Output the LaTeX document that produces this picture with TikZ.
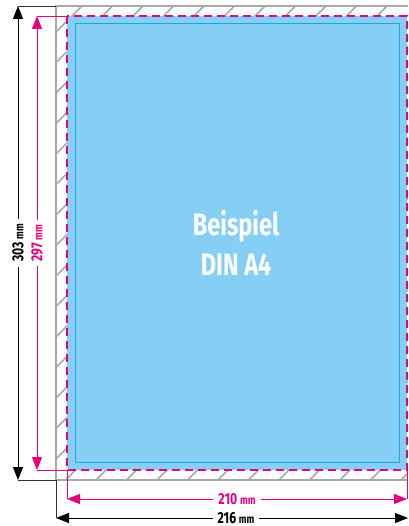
\documentclass[tikz,border=0pt]{standalone}
\usepackage{fontspec}
\newfontfamily\condfont[FakeStretch=0.76]{Fira Sans}
\usetikzlibrary{arrows.meta}
\definecolor{pinkc}{HTML}{E6007E}
\definecolor{bluefill}{HTML}{86CFF4}
\definecolor{bluestroke}{HTML}{22A5DE}
\definecolor{framegray}{HTML}{A8A8A8}
\tikzset{
  hatch/.style={framegray, line width=1.6pt},
  framebox/.style={framegray, line width=2.2pt},
  trimbox/.style={pinkc, line width=2.6pt, dash pattern=on 8pt off 5pt},
  innerbox/.style={bluestroke, line width=1pt},
  extblack/.style={black!80, line width=0.9pt},
  extpink/.style={pinkc, line width=0.9pt},
  dimblack/.style={black, line width=1pt, {Triangle[length=13pt,width=10pt]}-{Triangle[length=13pt,width=10pt]}},
  dimpink/.style={pinkc, line width=1pt, {Triangle[length=13pt,width=10pt]}-{Triangle[length=13pt,width=10pt]}},
  dimlabel/.style={fill=white, inner xsep=5pt, inner ysep=1pt, font=\condfont\bfseries\fontsize{16}{16}\selectfont},
}
\newcommand{\mmunit}{{\fontsize{12}{12}\selectfont mm}}
\begin{document}
\begin{tikzpicture}[x=1pt,y=-1pt]
\useasboundingbox (0,0) rectangle (408,526);
% hatching between frame and trim
\begin{scope}
  \clip (56,6) rectangle (408,480);
  \foreach \k in {-1,...,27}{
    \pgfmathsetmacro{\c}{88+30.5*\k}
    \draw[hatch] ({\c-480},480) -- ({\c-6},6);
  }
\end{scope}
% blue page
\fill[bluefill] (67,16) rectangle (407,470);
\draw[innerbox] (75,24) rectangle (399,462);
% frame
\draw[framebox] (408,6) -- (56,6) -- (56,480) -- (408,480);
% trim line
\draw[trimbox] (67,16) rectangle (407,470);
% main label
\node[white, align=center, font=\condfont\bfseries\fontsize{31}{40}\selectfont] (title) at (236,243) {Beispiel\\DIN A4};
% coordinates
\coordinate (outTL) at (56,6);
\coordinate (outBL) at (56,480);
\coordinate (outB) at (56,518);
\coordinate (outR) at (408,518);
\coordinate (v303t) at (18,6);
\coordinate (v303b) at (18,480);
\coordinate (trTL) at (67,16);
\coordinate (trBL) at (67,470);
\coordinate (trBR) at (407,470);
\coordinate (v297t) at (37,16);
\coordinate (v297b) at (37,470);
\coordinate (h210l) at (67,499);
\coordinate (h210r) at (407,499);
% extension lines
\draw[extblack] (outTL) -- (v303t);
\draw[extblack] (outBL) -- (v303b);
\draw[extblack] (outBL) -- (outB);
\draw[extpink] (trTL) -- (v297t);
\draw[extpink] (trBL) -- (v297b);
\draw[extpink] (trBL) -- (h210l);
\draw[extpink] (trBR) -- (h210r);
% dimensions
\draw[dimblack] (v303b) -- (v303t) node[dimlabel, midway, rotate=90] (l303) {303 \mmunit};
\draw[dimpink] (v297b) -- (v297t) node[dimlabel, midway, rotate=90, text=pinkc] (l297) {297 \mmunit};
\draw[dimpink] (h210l) -- (h210r) node[dimlabel, midway, text=pinkc] (l210) {210 \mmunit};
\draw[dimblack] (outB) -- (outR) node[dimlabel, midway, xshift=4pt] (l216) {216 \mmunit};
\end{tikzpicture}
\end{document}
